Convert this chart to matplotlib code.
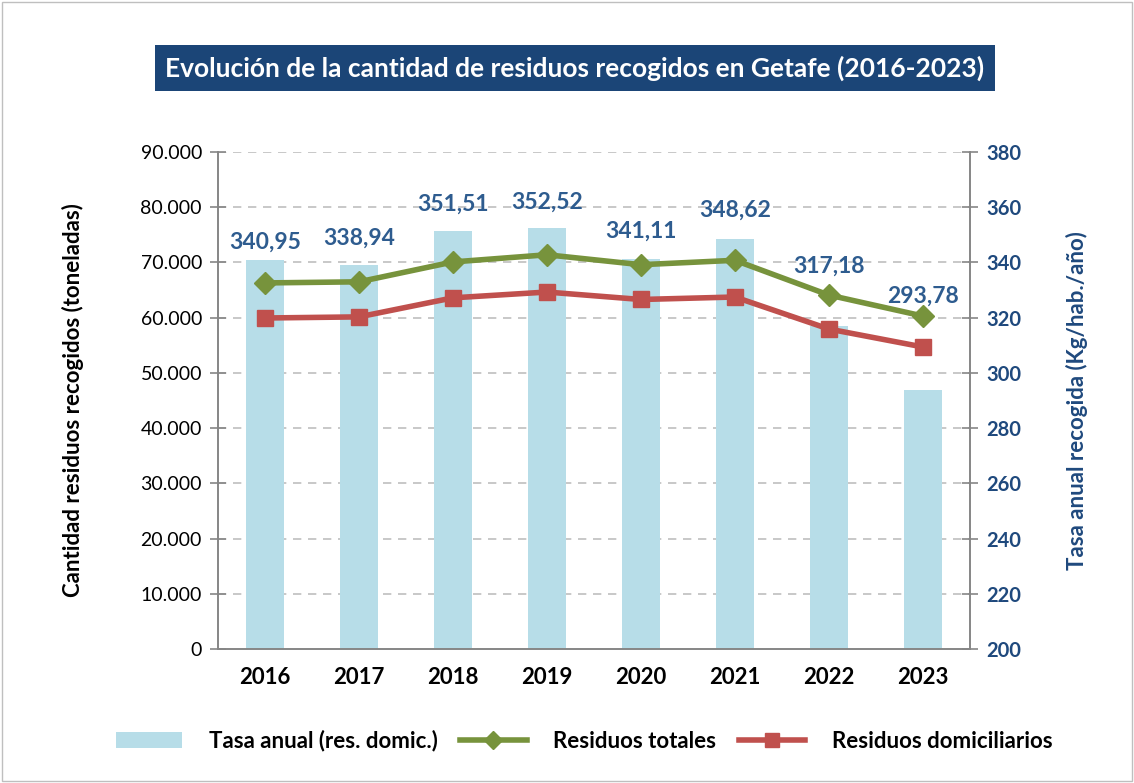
import matplotlib
matplotlib.use("Agg")
import matplotlib.pyplot as plt
from matplotlib.patches import Rectangle
from matplotlib.lines import Line2D
from matplotlib.patches import Patch
import numpy as np

plt.rcParams['font.family'] = ['Lato', 'DejaVu Sans']

# Datos
years = ["2016", "2017", "2018", "2019", "2020", "2021", "2022", "2023"]
tasa_anual = [340.95, 338.94, 351.51, 352.52, 341.11, 348.62, 317.18, 293.78]
residuos_totales = [66300, 66500, 70100, 71400, 69600, 70400, 64100, 60300]
residuos_domiciliarios = [59950, 60150, 63600, 64650, 63300, 63750, 57950, 54700]
label_text = ["340,95", "338,94", "351,51", "352,52", "341,11", "348,62", "317,18", "293,78"]
# altura de las etiquetas (eje derecho), colocadas a mano como en el original
label_y = [347.4, 348.9, 361.2, 361.9, 351.5, 359.0, 338.8, 327.8]

left_ticks = [0, 10000, 20000, 30000, 40000, 50000, 60000, 70000, 80000, 90000]
left_ticklabels = ["0", "10.000", "20.000", "30.000", "40.000", "50.000",
                   "60.000", "70.000", "80.000", "90.000"]
right_ticks = [200, 220, 240, 260, 280, 300, 320, 340, 360, 380]

navy = "#1F497D"
label_blue = "#2E5C8F"
bar_color = "#B7DDE8"
green = "#77933C"
red = "#C0504D"
gray = "#868686"

fig = plt.figure(figsize=(11.34, 7.83), dpi=100)
fig.patches.append(Rectangle((0.002, 0.002), 0.996, 0.996, transform=fig.transFigure,
                             fill=False, edgecolor="#BFBFBF", linewidth=1))

ax = fig.add_axes([0.1922, 0.1711, 0.6631, 0.6347])
ax2 = ax.twinx()

x = np.arange(len(years))

# barras en el eje derecho
ax2.bar(x, tasa_anual, width=0.4, color=bar_color, zorder=1)
for xi, t, ly in zip(x, label_text, label_y):
    ax2.text(xi, ly, t, ha="center", va="center", fontsize=16.5, fontweight="bold",
             color=label_blue)
ax2.set_ylim(200, 380)
ax2.set_yticks(right_ticks)
ax2.tick_params(axis="y", labelsize=14.5, labelcolor=navy, color=gray, length=11,
                width=1.2, direction="inout", pad=6)
for lab in ax2.get_yticklabels():
    lab.set_fontweight("bold")
ax2.set_ylabel("Tasa anual recogida (Kg/hab./año)", fontsize=16, fontweight="bold",
               color=navy)
ax2.yaxis.set_label_coords(1.128, 0.5)

# lineas en el eje izquierdo, dibujadas encima
ax.set_zorder(ax2.get_zorder() + 1)
ax.patch.set_visible(False)
ax.plot(x, residuos_totales, color=green, linewidth=4, marker="D", markersize=11,
        zorder=3)
ax.plot(x, residuos_domiciliarios, color=red, linewidth=4, marker="s", markersize=12,
        zorder=3)
ax.set_ylim(0, 90000)
ax.set_yticks(left_ticks)
ax.set_yticklabels(left_ticklabels)
ax.set_xlim(-0.5, len(years) - 0.5)
ax.set_xticks(x)
ax.set_xticklabels(years)
ax.tick_params(axis="y", labelsize=14, color=gray, length=11, width=1.2,
               direction="inout", pad=6)
ax.tick_params(axis="x", labelsize=16, length=0, pad=13)
for lab in ax.get_xticklabels():
    lab.set_fontweight("bold")
ax.set_ylabel("Cantidad residuos recogidos (toneladas)", fontsize=16, fontweight="bold")
ax.yaxis.set_label_coords(-0.178, 0.5)

# rejilla discontinua (se dibuja en ax2 para que quede detras de las barras)
for t in left_ticks[1:]:
    ax2.axhline(200 + t / 90000 * 180, color="#BFBFBF", linestyle=(0, (5, 4)),
                linewidth=1.2, zorder=0)

for a in (ax, ax2):
    a.spines["top"].set_visible(False)
    for s in ("left", "right", "bottom"):
        a.spines[s].set_color(gray)
        a.spines[s].set_linewidth(1.2)

# titulo
fig.text(0.507, 0.913, "Evolución de la cantidad de residuos recogidos en Getafe (2016-2023)",
         ha="center", va="center", fontsize=19, fontweight="bold", color="white",
         bbox=dict(boxstyle="square,pad=0.4", facecolor="#1B4577", edgecolor="none"))

# leyenda
handles = [Patch(facecolor=bar_color, edgecolor="none"),
           Line2D([0], [0], color=green, linewidth=4, marker="D", markersize=9),
           Line2D([0], [0], color=red, linewidth=4, marker="s", markersize=10)]
labels = ["Tasa anual (res. domic.)", "Residuos totales", "Residuos domiciliarios"]
leg = fig.legend(handles, labels, loc="center", bbox_to_anchor=(0.515, 0.054), ncol=3,
                 frameon=False, fontsize=16, handlelength=3, columnspacing=1.0,
                 handletextpad=1.2)
for t in leg.get_texts():
    t.set_fontweight("bold")

plt.savefig("out.png", dpi=100)
